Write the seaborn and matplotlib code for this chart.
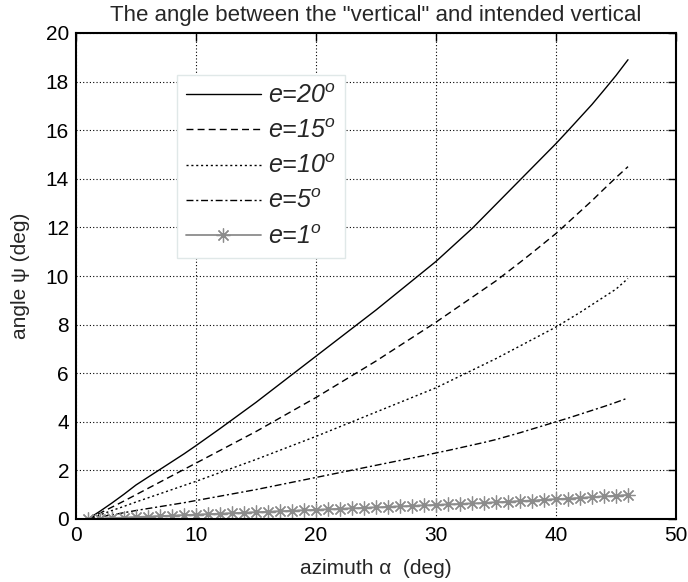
import matplotlib
matplotlib.use("Agg")
import matplotlib.pyplot as plt
import seaborn as sns
import pandas as pd

azimuth = list(range(1, 47))

e20 = [0.00, 0.32, 0.66, 1.02, 1.40, 1.72, 2.04, 2.36, 2.68, 3.02,
       3.37, 3.72, 4.08, 4.44, 4.80, 5.18, 5.56, 5.94, 6.32, 6.70,
       7.08, 7.46, 7.84, 8.22, 8.60, 9.00, 9.40, 9.80, 10.20, 10.60,
       11.05, 11.50, 11.95, 12.45, 12.95, 13.45, 13.95, 14.45, 14.95, 15.45,
       15.98, 16.52, 17.06, 17.65, 18.25, 18.90]
e15 = [0.00, 0.24, 0.49, 0.74, 1.00, 1.26, 1.52, 1.78, 2.04, 2.30,
       2.56, 2.82, 3.08, 3.34, 3.60, 3.88, 4.16, 4.44, 4.72, 5.00,
       5.30, 5.60, 5.90, 6.20, 6.50, 6.82, 7.14, 7.46, 7.78, 8.10,
       8.44, 8.78, 9.12, 9.46, 9.80, 10.18, 10.56, 10.95, 11.35, 11.75,
       12.20, 12.65, 13.10, 13.58, 14.05, 14.50]
e10 = [0.00, 0.17, 0.35, 0.52, 0.70, 0.87, 1.04, 1.21, 1.38, 1.55,
       1.73, 1.91, 2.09, 2.27, 2.45, 2.64, 2.83, 3.02, 3.21, 3.40,
       3.60, 3.80, 4.00, 4.20, 4.40, 4.60, 4.80, 5.00, 5.20, 5.40,
       5.64, 5.88, 6.12, 6.36, 6.60, 6.86, 7.12, 7.38, 7.64, 7.90,
       8.20, 8.50, 8.82, 9.14, 9.46, 9.90]
e5 = [0.00, 0.09, 0.17, 0.26, 0.35, 0.43, 0.51, 0.59, 0.67, 0.76,
      0.85, 0.94, 1.03, 1.12, 1.21, 1.31, 1.41, 1.51, 1.61, 1.71,
      1.81, 1.91, 2.01, 2.11, 2.21, 2.31, 2.41, 2.51, 2.61, 2.72,
      2.82, 2.93, 3.04, 3.15, 3.27, 3.41, 3.55, 3.70, 3.85, 4.00,
      4.15, 4.31, 4.47, 4.63, 4.80, 4.98]
e1 = [0.00, 0.02, 0.04, 0.06, 0.08, 0.10, 0.12, 0.14, 0.16, 0.18,
      0.20, 0.22, 0.24, 0.26, 0.28, 0.30, 0.32, 0.34, 0.36, 0.38,
      0.40, 0.42, 0.44, 0.46, 0.48, 0.50, 0.52, 0.54, 0.56, 0.58,
      0.60, 0.62, 0.64, 0.66, 0.69, 0.71, 0.74, 0.76, 0.79, 0.82,
      0.84, 0.87, 0.90, 0.93, 0.96, 0.99]

labels = ["e=20$^o$", "e=15$^o$", "e=10$^o$", "e=5$^o$", "e=1$^o$"]
series = [e20, e15, e10, e5, e1]

xticks = [0, 10, 20, 30, 40, 50]
yticks = [0, 2, 4, 6, 8, 10, 12, 14, 16, 18, 20]

sns.set_style("white")
plt.rcParams["font.family"] = ["Liberation Sans", "DejaVu Sans"]
plt.rcParams["mathtext.fontset"] = "custom"
plt.rcParams["mathtext.rm"] = "Liberation Sans"
plt.rcParams["mathtext.it"] = "Liberation Sans:italic"

fig = plt.figure(figsize=(6.88, 5.82), dpi=100)
ax = fig.add_axes([76 / 688, 1 - 519 / 582, 600 / 688, (519 - 33) / 582])

gray = "#8c8c8c"
styles = [
    dict(color="black", linestyle="-", linewidth=1.0),
    dict(color="black", linestyle=(0, (5, 3)), linewidth=1.0),
    dict(color="black", linestyle=(0, (1.5, 2)), linewidth=1.0),
    dict(color="black", linestyle=(0, (5, 2, 1.5, 2)), linewidth=1.0),
    dict(color=gray, linestyle="-", linewidth=1.3, marker=(8, 2, 0),
         markersize=10, markeredgewidth=0.9, markeredgecolor=gray,
         markerfacecolor=gray),
]

for vals, lab, st in zip(series, labels, styles):
    df = pd.DataFrame({"azimuth": azimuth, "psi": vals})
    sns.lineplot(data=df, x="azimuth", y="psi", ax=ax, label=lab, **st)

ax.set_xlim(0, 50)
ax.set_ylim(0, 20)
ax.set_xticks(xticks)
ax.set_yticks(yticks)
ax.tick_params(direction="in", top=True, right=True, length=6, width=1,
               labelsize=15, colors="black", pad=5)
ax.grid(True, color="black", linestyle=(0, (1, 2)), linewidth=0.8)
for sp in ax.spines.values():
    sp.set_visible(True)
    sp.set_color("black")
    sp.set_linewidth(1.5)

ax.set_xlabel("azimuth α  (deg)", fontsize=15, labelpad=10)
ax.set_ylabel("angle ψ (deg)", fontsize=15, labelpad=11)
ax.set_title('The angle between the "vertical" and intended vertical',
             fontsize=16, pad=9)

leg = ax.legend(loc="upper left", bbox_to_anchor=(101 / 600, 1 - 42 / 486),
                borderaxespad=0, prop={"style": "italic", "size": 18},
                frameon=True, fancybox=False, edgecolor="#e0e8e8",
                framealpha=1, handlelength=3.0, labelspacing=0.45,
                borderpad=0.35, handletextpad=0.3)
leg.get_frame().set_linewidth(1.0)
leg.get_frame().set_facecolor("white")

fig.savefig("out.png", dpi=100)
